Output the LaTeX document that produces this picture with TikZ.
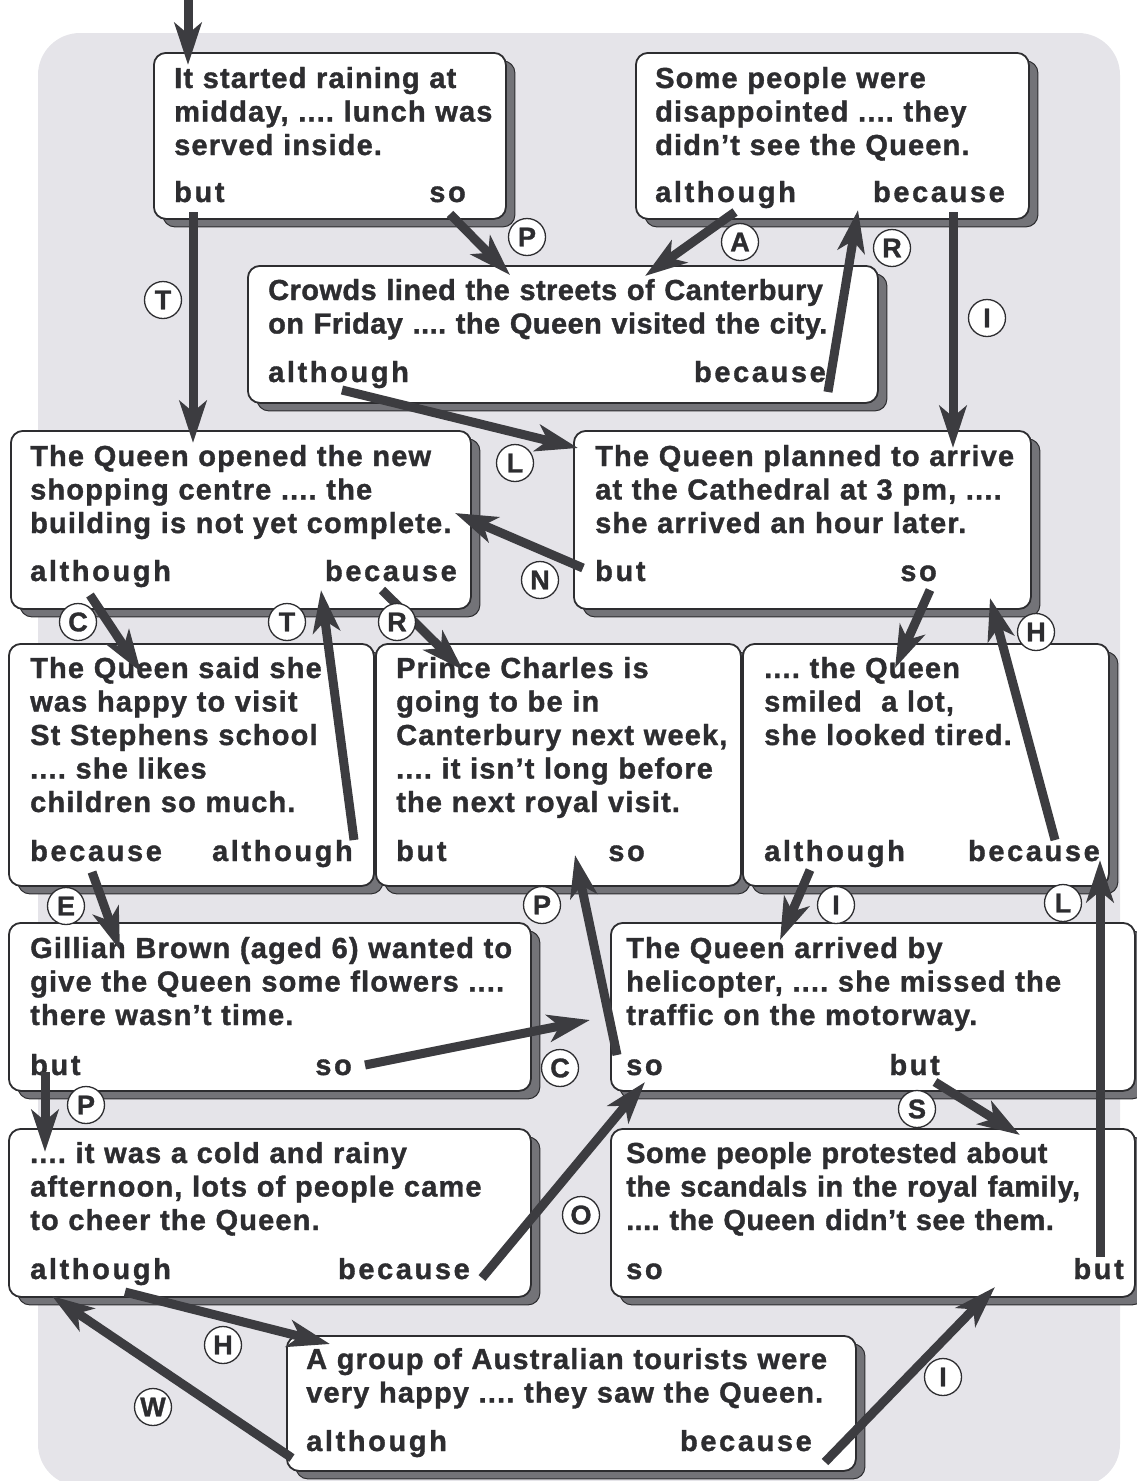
\documentclass[tikz,border=0pt]{standalone}
\usepackage{fontspec}
\setmainfont{Liberation Sans}[BoldFeatures={FakeBold=1.2}]
\frenchspacing
\usetikzlibrary{arrows.meta,shadows}
\definecolor{bgc}{RGB}{229,228,233}
\definecolor{txt}{RGB}{45,45,48}
\definecolor{arrowc}{RGB}{60,60,64}
\definecolor{shadowc}{RGB}{115,115,120}
\tikzset{
  box/.style={draw=txt, line width=1.8pt, rounded corners=12pt, fill=white, anchor=north west, inner sep=0pt,
    drop shadow={shadow xshift=9pt,shadow yshift=-8pt,fill=shadowc,draw=txt,line width=1pt,opacity=1}},
  sent/.style={anchor=base west, inner sep=0pt, text width=640pt, align=left, text=txt,
    font=\fontsize{29}{33.5}\selectfont\bfseries\addfontfeature{LetterSpace=4}},
  tightsent/.style={sent, font=\fontsize{29}{33.5}\selectfont\bfseries\addfontfeature{LetterSpace=1.5}},
  conj/.style={anchor=base west, inner sep=0pt, text=txt,
    font=\fontsize{29}{33}\selectfont\bfseries\addfontfeature{LetterSpace=9}},
  conjr/.style={conj, anchor=base east},
  lab/.style={circle, draw=txt, line width=1.3pt, fill=white, minimum size=37pt, inner sep=0pt, text=txt,
    font=\fontsize{27}{27}\selectfont\bfseries},
  arr/.style={draw=arrowc, line width=9pt, -{Stealth[length=42pt,width=27pt,inset=11pt]}}
}
\begin{document}
\begin{tikzpicture}[x=1pt,y=-1pt]
\useasboundingbox (0,0) rectangle (1136,1481);
\fill[bgc, rounded corners=42pt] (38,33) rectangle (1120,1486);

% boxes
\node[box, minimum width=352pt, minimum height=166pt] (b1) at (153,52) {};
\node[box, minimum width=393pt, minimum height=166pt] (b2) at (635,52) {};
\node[box, minimum width=630pt, minimum height=137pt] (b3) at (247,265) {};
\node[box, minimum width=460pt, minimum height=178pt] (b4) at (10,430) {};
\node[box, minimum width=457pt, minimum height=178pt] (b5) at (573,430) {};
\node[box, minimum width=365pt, minimum height=242pt] (b6) at (8,643) {};
\node[box, minimum width=365pt, minimum height=242pt] (b7) at (375,643) {};
\node[box, minimum width=366pt, minimum height=242pt] (b8) at (742,643) {};
\node[box, minimum width=522pt, minimum height=168pt] (b9) at (8,922) {};
\node[box, minimum width=524pt, minimum height=168pt] (b10) at (610,922) {};
\node[box, minimum width=522pt, minimum height=168pt] (b11) at (8,1128) {};
\node[box, minimum width=524pt, minimum height=168pt] (b12) at (610,1128) {};
\node[box, minimum width=569pt, minimum height=135pt] (b13) at (286,1335) {};

% sentences
\node[sent] (s1) at (174,88) {It started raining at\\midday, .... lunch was\\served inside.};
\node[sent] (s2) at (655,88) {Some people were\\disappointed .... they\\didn’t see the Queen.};
\node[tightsent] (s3) at (268,300) {Crowds lined the streets of Canterbury\\on Friday .... the Queen visited the city.};
\node[sent] (s4) at (30,466) {The Queen opened the new\\shopping centre .... the\\building is not yet complete.};
\node[sent] (s5) at (595,466) {The Queen planned to arrive\\at the Cathedral at 3 pm, ....\\she arrived an hour later.};
\node[sent] (s6) at (30,678) {The Queen said she\\was happy to visit\\St Stephens school\\.... she likes\\children so much.};
\node[sent] (s7) at (396,678) {Prince Charles is\\going to be in\\Canterbury next week,\\.... it isn’t long before\\the next royal visit.};
\node[sent] (s8) at (764,678) {.... the Queen\\smiled\ \ a lot,\\she looked tired.};
\node[sent] (s9) at (30,958) {Gillian Brown (aged 6) wanted to\\give the Queen some flowers ....\\there wasn’t time.};
\node[sent] (s10) at (626,958) {The Queen arrived by\\helicopter, .... she missed the\\traffic on the motorway.};
\node[sent] (s11) at (30,1163) {.... it was a cold and rainy\\afternoon, lots of people came\\to cheer the Queen.};
\node[tightsent] (s12) at (626,1163) {Some people protested about\\the scandals in the royal family,\\.... the Queen didn’t see them.};
\node[sent] (s13) at (306,1369) {A group of Australian tourists were\\very happy .... they saw the Queen.};

% conjunctions
\node[conj] (c1a) at (174,202) {but};
\node[conjr] (c1b) at (466,202) {so};
\node[conj] (c2a) at (655,202) {although};
\node[conjr] (c2b) at (1005,202) {because};
\node[conj] (c3a) at (268,382) {although};
\node[conjr] (c3b) at (826,382) {because};
\node[conj] (c4a) at (30,581) {although};
\node[conjr] (c4b) at (457,581) {because};
\node[conj] (c5a) at (595,581) {but};
\node[conjr] (c5b) at (937,581) {so};
\node[conj] (c6a) at (30,861) {because};
\node[conjr] (c6b) at (353,861) {although};
\node[conj] (c7a) at (396,861) {but};
\node[conjr] (c7b) at (645,861) {so};
\node[conj] (c8a) at (764,861) {although};
\node[conjr] (c8b) at (1100,861) {because};
\node[conj] (c9a) at (30,1075) {but};
\node[conjr] (c9b) at (352,1075) {so};
\node[conj] (c10a) at (626,1075) {so};
\node[conjr] (c10b) at (940,1075) {but};
\node[conj] (c11a) at (30,1279) {although};
\node[conjr] (c11b) at (470,1279) {because};
\node[conj] (c12a) at (626,1279) {so};
\node[conjr] (c12b) at (1124,1279) {but};
\node[conj] (c13a) at (306,1451) {although};
\node[conjr] (c13b) at (812,1451) {because};

% arrow end points
\coordinate (top) at (188,0);
\coordinate (t0) at (188,65);
\coordinate (f1) at (193,212);   \coordinate (t1) at (193,443);
\coordinate (f2) at (450,214);   \coordinate (t2) at (510,275);
\coordinate (f3) at (735,212);   \coordinate (t3) at (645,276);
\coordinate (f4) at (828,392);   \coordinate (t4) at (858,210);
\coordinate (f5) at (953,212);   \coordinate (t5) at (953,448);
\coordinate (f6) at (342,390);   \coordinate (t6) at (578,448);
\coordinate (f7) at (583,568);   \coordinate (t7) at (455,513);
\coordinate (f8) at (90,595);    \coordinate (t8) at (141,672);
\coordinate (f9) at (354,840);   \coordinate (t9) at (321,590);
\coordinate (f10) at (382,590);  \coordinate (t10) at (463,670);
\coordinate (f11) at (930,590);  \coordinate (t11) at (895,668);
\coordinate (f12) at (1055,840); \coordinate (t12) at (990,598);
\coordinate (f13) at (92,872);   \coordinate (t13) at (120,950);
\coordinate (f14) at (617,1055); \coordinate (t14) at (575,855);
\coordinate (f15) at (810,870);  \coordinate (t15) at (780,940);
\coordinate (f16) at (1100,1257);\coordinate (t16) at (1100,860);
\coordinate (f17) at (365,1065); \coordinate (t17) at (590,1020);
\coordinate (f18) at (45,1072);  \coordinate (t18) at (45,1152);
\coordinate (f19) at (482,1278); \coordinate (t19) at (645,1082);
\coordinate (f20) at (935,1082); \coordinate (t20) at (1020,1135);
\coordinate (f21) at (125,1292); \coordinate (t21) at (330,1344);
\coordinate (f22) at (292,1458); \coordinate (t22) at (52,1296);
\coordinate (f23) at (825,1462); \coordinate (t23) at (995,1287);

\foreach \a/\b in {top/t0,f1/t1,f2/t2,f3/t3,f4/t4,f5/t5,f6/t6,f7/t7,f8/t8,f9/t9,f10/t10,f11/t11,f12/t12,
  f13/t13,f14/t14,f15/t15,f16/t16,f17/t17,f18/t18,f19/t19,f20/t20,f21/t21,f22/t22,f23/t23}
  \draw[arr] (\a) -- (\b);

% letter labels
\node[lab] (lP1) at (527,237) {P};
\node[lab] (lA) at (740,242) {A};
\node[lab] (lR1) at (892,248) {R};
\node[lab] (lT1) at (163,300) {T};
\node[lab] (lI1) at (987,318) {I};
\node[lab] (lL1) at (515,463) {L};
\node[lab] (lN) at (540,580) {N};
\node[lab] (lC1) at (78,622) {C};
\node[lab] (lT2) at (287,622) {T};
\node[lab] (lR2) at (397,622) {R};
\node[lab] (lH1) at (1036,632) {H};
\node[lab] (lE) at (66,906) {E};
\node[lab] (lP2) at (542,905) {P};
\node[lab] (lI2) at (836,905) {I};
\node[lab] (lL2) at (1063,903) {L};
\node[lab] (lC2) at (560,1068) {C};
\node[lab] (lP3) at (86,1105) {P};
\node[lab] (lS) at (917,1109) {S};
\node[lab] (lO) at (581,1215) {O};
\node[lab] (lH2) at (223,1345) {H};
\node[lab] (lW) at (153,1407) {W};
\node[lab] (lI3) at (943,1377) {I};
\end{tikzpicture}
\end{document}
